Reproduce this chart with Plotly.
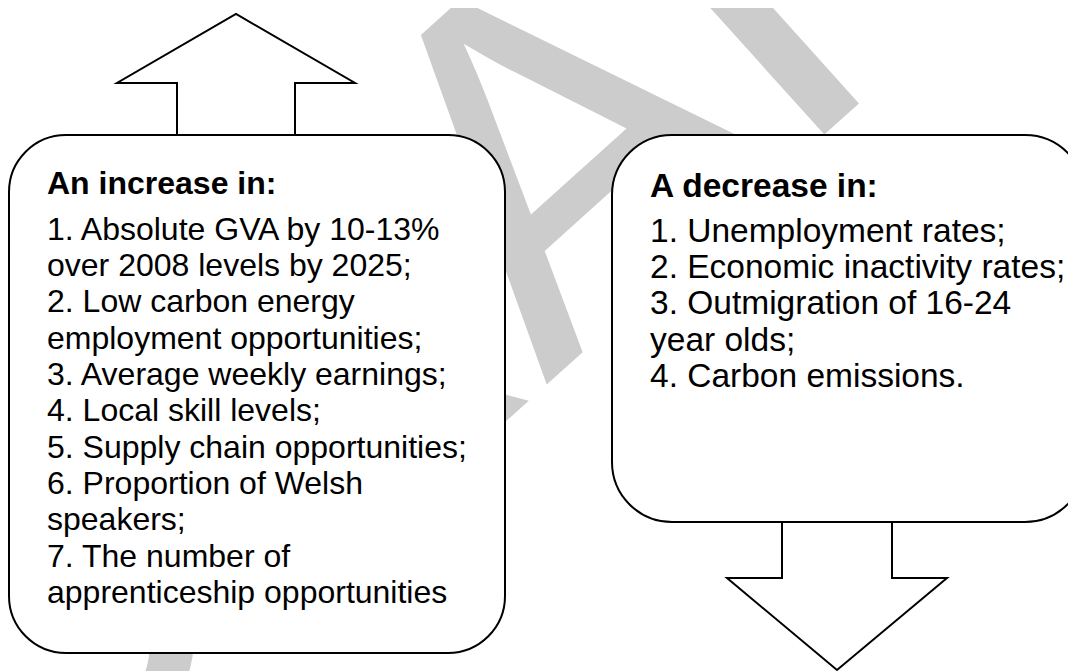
import plotly.graph_objects as go

# ---- content ----
increase_title = "An increase in:"
increase_items = [
    "1. Absolute GVA by 10-13%",
    "over 2008 levels by 2025;",
    "2. Low carbon energy",
    "employment opportunities;",
    "3. Average weekly earnings;",
    "4. Local skill levels;",
    "5. Supply chain opportunities;",
    "6. Proportion of Welsh",
    "speakers;",
    "7. The number of",
    "apprenticeship opportunities",
]
decrease_title = "A decrease in:"
decrease_items = [
    "1. Unemployment rates;",
    "2. Economic inactivity rates;",
    "3. Outmigration of 16-24",
    "year olds;",
    "4. Carbon emissions.",
]
watermark = "DRAFT"

# ---- layout geometry (pixels) ----
W, H = 1076, 671
OFF = 8  # page body margin
FONT = "Liberation Sans, Arial, sans-serif"
LEFT_BOX = dict(x0=9, x1=505, y0=135, y1=653, r=57)
RIGHT_BOX = dict(x0=612, x1=1085, y0=135, y1=522, r=60)
UP_ARROW = dict(cx=236, shaft_half=59, head_half=119, base=135, head_y=83, tip=14)
DOWN_ARROW = dict(cx=837, shaft_half=55, head_half=110, base=522, head_y=578, tip=670)
LINE_STEP = 36.3


def rounded_rect(b):
    x0, x1, y0, y1, r = b["x0"], b["x1"], b["y0"], b["y1"], b["r"]
    k = 0.5523 * r
    return (
        f"M{x0 + r},{y0} L{x1 - r},{y0} "
        f"C{x1 - r + k},{y0} {x1},{y0 + r - k} {x1},{y0 + r} "
        f"L{x1},{y1 - r} "
        f"C{x1},{y1 - r + k} {x1 - r + k},{y1} {x1 - r},{y1} "
        f"L{x0 + r},{y1} "
        f"C{x0 + r - k},{y1} {x0},{y1 - r + k} {x0},{y1 - r} "
        f"L{x0},{y0 + r} "
        f"C{x0},{y0 + r - k} {x0 + r - k},{y0} {x0 + r},{y0} Z"
    )


def arrow(a):
    c, s, h = a["cx"], a["shaft_half"], a["head_half"]
    return (
        f"M{c - s},{a['base']} L{c - s},{a['head_y']} L{c - h},{a['head_y']} "
        f"L{c},{a['tip']} L{c + h},{a['head_y']} L{c + s},{a['head_y']} "
        f"L{c + s},{a['base']}"
    )


fig = go.Figure()

shapes = []
# watermark (drawn beneath everything, covered by the white boxes)
wm_cx, wm_cy, dx, dy = 481, 147, 0.743, -0.669
shapes.append(dict(
    type="line", layer="below",
    x0=wm_cx - 300 * dx, y0=wm_cy - 300 * dy,
    x1=wm_cx + 300 * dx, y1=wm_cy + 300 * dy,
    line=dict(color="rgba(0,0,0,0)", width=0),
    label=dict(text=watermark, textposition="middle", yanchor="middle",
               font=dict(family=FONT, size=500, color="#cccccc")),
))
for a in (UP_ARROW, DOWN_ARROW):
    shapes.append(dict(type="path", layer="above", path=arrow(a),
                       fillcolor="white", line=dict(color="black", width=2)))
for b in (LEFT_BOX, RIGHT_BOX):
    shapes.append(dict(type="path", layer="above", path=rounded_rect(b),
                       fillcolor="white", line=dict(color="black", width=2)))

annotations = []


def add_block(x, title, title_base, items, first_base, size):
    annotations.append(dict(
        x=x, y=title_base - 0.35 * size + 6, xref="x", yref="y",
        text=f"<b>{title}</b>", showarrow=False, xanchor="left", yanchor="middle",
        font=dict(family=FONT, size=size, color="black")))
    for i, t in enumerate(items):
        annotations.append(dict(
            x=x, y=first_base + i * LINE_STEP - 0.35 * size + 6, xref="x", yref="y",
            text=t, showarrow=False, xanchor="left", yanchor="middle",
            font=dict(family=FONT, size=size, color="black")))


add_block(45, increase_title, 188, increase_items, 234, 32)
add_block(648, decrease_title, 191, decrease_items, 236, 33.5)

fig.update_layout(
    width=W, height=H,
    margin=dict(l=0, r=0, t=0, b=0),
    paper_bgcolor="white", plot_bgcolor="white",
    xaxis=dict(range=[OFF, W + OFF], visible=False, fixedrange=True),
    yaxis=dict(range=[H + OFF, OFF], visible=False, fixedrange=True),
    shapes=shapes, annotations=annotations, showlegend=False,
)

fig.write_html("out.html")
